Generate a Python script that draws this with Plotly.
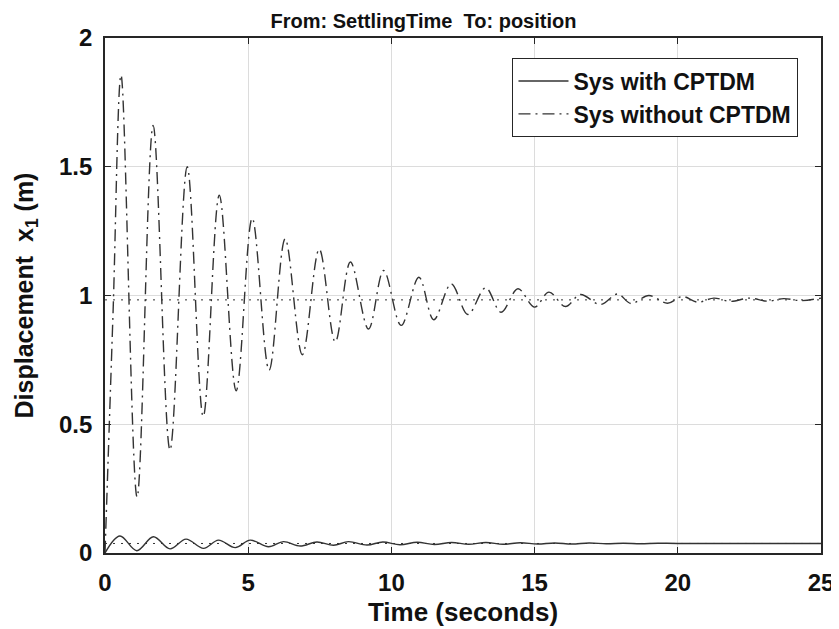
import plotly.graph_objects as go

# step response: peaks and troughs (time in s, displacement in m)
t_without = [0, 0.28, 0.56, 1.12, 1.68, 2.27, 2.87, 3.43, 3.99, 4.58, 5.14, 5.73, 6.29, 6.89,
             7.48, 8.04, 8.57, 9.2, 9.73, 10.34, 10.96, 11.48, 12.09, 12.67, 13.29, 13.83,
             14.42, 15.0, 15.5, 16.08, 16.6, 17.3, 17.9, 18.36, 18.99, 19.64, 20.16, 20.7,
             21.26, 21.85, 22.5, 23.13, 23.7, 24.3, 25]
y_without = [0, 0.93, 1.856, 0.217, 1.66, 0.40, 1.50, 0.53, 1.39, 0.63, 1.30, 0.71, 1.22, 0.77,
             1.18, 0.82, 1.13, 0.87, 1.097, 0.884, 1.071, 0.906, 1.045, 0.926, 1.03, 0.935,
             1.026, 0.955, 1.013, 0.957, 1.004, 0.965, 1.006, 0.969, 1.0, 0.97, 0.996, 0.974,
             0.99, 0.977, 0.99, 0.978, 0.988, 0.98, 0.99]

t_with = [0, 0.52, 1.11, 1.69, 2.27, 2.83, 3.44, 3.96, 4.55, 5.07, 5.71, 6.23, 6.82, 7.4,
          7.98, 8.5, 9.15, 9.7, 10.3, 10.9, 11.5, 12.1, 12.7, 13.3, 13.9, 14.5, 15.1, 15.7,
          16.3, 16.9, 17.5, 18.1, 18.7, 19.3, 20.0, 25]
y_with = [0, 0.066, 0.009, 0.063, 0.016, 0.054, 0.018, 0.05, 0.021, 0.05, 0.024, 0.044, 0.027,
          0.043, 0.03, 0.044, 0.031, 0.043, 0.032, 0.042, 0.033, 0.041, 0.034, 0.041, 0.034,
          0.04, 0.035, 0.039, 0.035, 0.039, 0.036, 0.038, 0.036, 0.038, 0.037, 0.037]

# steady-state values (dotted)
final_without = 0.983
final_with = 0.037
t_span = [0, 25]

x_ticks = [0, 5, 10, 15, 20, 25]
y_ticks = [0, 0.5, 1, 1.5, 2]

font = "Liberation Sans, Arial, sans-serif"
ink = "#262626"
txt = "#111111"

fig = go.Figure()
fig.add_trace(go.Scatter(x=t_span, y=[final_without] * 2, mode="lines", showlegend=False,
                         line=dict(color="#333333", width=1, dash="2px,6px")))
fig.add_trace(go.Scatter(x=t_span, y=[final_with] * 2, mode="lines", showlegend=False,
                         line=dict(color="#333333", width=1, dash="2px,6px")))
fig.add_trace(go.Scatter(x=t_with, y=y_with, mode="lines", name="Sys with CPTDM",
                         line=dict(color="#333333", width=1.4, shape="spline", smoothing=1)))
fig.add_trace(go.Scatter(x=t_without, y=y_without, mode="lines", name="Sys without CPTDM",
                         line=dict(color="#333333", width=1.4, shape="spline", smoothing=1,
                                   dash="12px,5px,2px,5px")))

axis_common = dict(
    showgrid=True, gridcolor="#dcdcdc", gridwidth=1, automargin=False,
    showline=True, linecolor=ink, linewidth=1.8, mirror="ticks",
    ticks="inside", ticklen=6, tickcolor=ink, zeroline=False,
    tickfont=dict(family=font, size=24, color=txt, weight="bold"),
)

# the page body has an 8px margin, so the figure is shifted by 8px in the window
fig.update_layout(
    width=831, height=621,
    paper_bgcolor="white", plot_bgcolor="white",
    margin=dict(l=97, r=18, t=30, b=76),
    title=dict(text="From: SettlingTime  To: position", x=0.5, xref="container",
               y=0.99, yanchor="top",
               font=dict(family=font, size=20, color=txt, weight="bold")),
    xaxis=dict(range=[0, 25], tickvals=x_ticks, ticklabelstandoff=7,
               title=dict(text="Time (seconds)", standoff=8,
                          font=dict(family=font, size=26, color=txt, weight="bold")),
               **axis_common),
    yaxis=dict(range=[0, 2], tickvals=y_ticks, ticklabelstandoff=6,
               title=dict(text="Displacement  x<sub>1</sub> (m)", standoff=18,
                          font=dict(family=font, size=25, color=txt, weight="bold")),
               **axis_common),
    legend=dict(x=0.968, y=0.961, xanchor="right", yanchor="top",
                bgcolor="white", bordercolor=ink, borderwidth=1.4,
                font=dict(family=font, size=23, color=txt, weight="bold"),
                tracegroupgap=0, itemwidth=50),
    showlegend=True,
)

fig.write_html("out.html")
